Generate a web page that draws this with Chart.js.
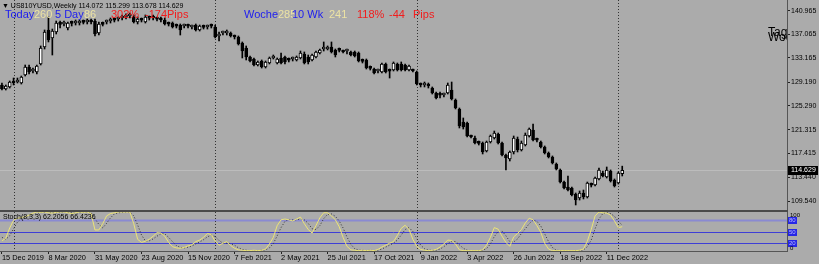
<!DOCTYPE html>
<html>
<head>
<meta charset="utf-8">
<script src="https://cdn.jsdelivr.net/npm/chart.js@4.4.1/dist/chart.umd.min.js"></script>
<style>
  body { margin:0; width:819px; height:264px; overflow:hidden; background:#ababab; position:relative; font-family:'Liberation Sans', Arial, sans-serif; }
  canvas { position:absolute; left:0; }
  #main { top:0; }
  #sub { top:212px; }
  .lbl { position:absolute; white-space:pre; line-height:1; }
  .big { font-size:11px; top:9px; }
  .blue { color:#1c1cf0; }
  .sand { color:#ece3a4; }
  .red { color:#f21c1c; }
</style>
</head>
<body>
<canvas id="main" width="819" height="212"></canvas>
<canvas id="sub" width="819" height="52"></canvas>

<div class="lbl" style="left:2px;top:2px;font-size:7px;color:#000">▼ US810YUSD,Weekly 114.072 115.299 113.678 114.629</div>
<div class="lbl big blue" style="left:5px">Today</div>
<div class="lbl big sand" style="left:34px">260</div>
<div class="lbl big blue" style="left:55px">5 Day</div>
<div class="lbl big sand" style="left:84px">86</div>
<div class="lbl big red" style="left:111px">302%</div>
<div class="lbl big red" style="left:145px">-174Pips</div>
<div class="lbl big blue" style="left:244px">Woche</div>
<div class="lbl big sand" style="left:278px">285</div>
<div class="lbl big blue" style="left:292px">10 Wk</div>
<div class="lbl big sand" style="left:329px">241</div>
<div class="lbl big red" style="left:357px">118%</div>
<div class="lbl big red" style="left:389px">-44</div>
<div class="lbl big red" style="left:413px">Pips</div>
<div style="position:absolute;left:768px;top:0;width:19px;height:60px;overflow:hidden">
  <div class="lbl" style="left:0;top:26px;font-size:12px;color:#000">Tag</div>
  <div class="lbl" style="left:0;top:31px;font-size:12px;color:#000">Woche</div>
</div>
<div class="lbl" style="left:3px;top:213px;font-size:7px;color:#000">Stoch(8,3,3) 62.2056 66.4236</div>

<script>
// -- weekly candles, 15 Dec 2019 .. 8 Jan 2023 --
const opens = [
  128.70,128.04,128.37,129.36,129.19,129.03,130.35,131.67,131.01,130.84,
  132.17,134.97,137.78,136.46,137.45,138.77,138.77,138.11,138.93,138.93,
  138.93,139.10,139.10,139.26,139.26,137.28,138.77,139.10,139.26,139.43,
  139.60,139.76,139.93,140.09,139.93,139.10,139.43,139.10,139.76,139.93,
  139.60,139.60,139.43,138.77,138.93,138.44,138.60,138.44,138.44,138.27,
  138.60,137.78,138.27,138.27,138.44,138.27,136.79,137.28,137.28,137.28,
  136.79,136.62,135.63,134.81,133.32,132.99,132.00,132.66,131.67,132.33,
  133.16,132.33,133.16,133.32,132.83,132.99,132.83,133.16,133.82,133.32,
  132.83,133.32,133.98,134.64,134.64,134.97,134.48,134.48,134.31,134.31,
  134.15,134.15,133.98,132.66,132.83,131.50,131.34,131.01,130.84,132.17,
  131.01,131.17,132.17,132.17,132.00,131.17,131.17,130.84,128.86,128.70,
  128.70,128.20,127.38,127.05,127.05,127.38,127.87,126.22,124.74,122.59,
  122.42,120.28,119.95,119.12,119.12,117.80,119.29,119.95,120.61,119.12,
  117.14,116.48,117.64,119.78,117.97,118.79,120.28,121.27,119.62,119.29,
  118.46,117.47,116.81,115.66,114.67,112.68,111.86,111.69,110.70,110.04,
  110.87,110.21,112.19,112.19,113.18,114.17,113.51,114.50,113.01,112.52,114.072
];
const highs = [
  129.03,128.70,129.36,129.85,129.85,130.18,132.00,132.00,131.50,132.00,
  135.14,137.78,139.93,137.94,139.26,139.26,139.26,139.10,139.26,139.43,
  139.43,139.43,139.60,139.60,139.60,139.10,139.10,139.43,139.76,139.76,
  139.93,140.26,140.43,140.59,140.26,139.93,139.76,140.26,140.09,140.26,
  139.93,139.93,139.76,139.10,139.10,138.77,138.77,138.77,138.77,138.60,
  138.77,138.60,138.60,138.60,138.77,138.60,137.45,137.61,137.78,137.45,
  136.95,136.79,135.80,135.14,133.49,133.16,132.66,132.83,132.66,133.32,
  133.65,133.16,133.98,133.49,133.16,133.32,133.49,134.31,134.15,133.65,
  133.82,134.31,134.64,135.80,135.14,135.80,134.64,134.81,134.48,134.64,
  134.31,134.31,134.15,132.99,132.99,131.84,131.50,131.34,132.33,132.33,
  131.34,132.50,132.33,132.50,132.17,132.00,131.34,131.01,129.03,129.19,
  129.03,128.37,127.54,127.54,127.38,129.03,129.19,126.39,124.90,123.25,
  122.59,120.44,120.28,119.45,119.29,119.45,120.44,121.10,120.77,119.29,
  117.31,117.80,120.28,120.11,119.45,120.77,121.60,122.26,119.95,119.45,
  118.63,117.64,116.98,115.82,114.83,112.85,113.67,111.86,110.87,111.20,
  111.36,112.68,112.52,113.51,115.00,114.50,115.16,114.67,113.18,114.34,115.299
];
const lows = [
  127.87,127.87,128.20,128.70,129.03,128.86,130.18,130.51,130.68,130.51,
  132.00,134.64,135.80,133.65,137.12,138.11,138.44,137.78,138.44,138.60,
  138.60,138.77,138.77,138.77,136.79,136.95,138.44,138.77,138.93,139.10,
  139.26,139.43,139.60,139.76,138.93,138.77,139.10,138.93,139.43,139.43,
  139.26,139.10,138.60,138.44,138.11,138.11,136.95,138.11,138.11,137.94,
  137.61,137.61,137.94,137.94,138.11,136.46,135.96,136.95,136.95,136.62,
  136.29,135.30,133.16,132.83,132.50,131.84,131.84,131.50,131.50,132.17,
  132.99,132.17,132.17,132.17,132.50,132.66,132.66,132.99,132.17,132.17,
  132.66,133.16,133.82,134.31,134.48,133.98,133.32,134.15,133.98,133.82,
  133.49,133.32,132.50,132.33,131.34,131.17,130.51,130.68,130.68,130.68,
  129.85,131.01,131.01,131.01,131.01,131.01,130.84,128.70,128.37,128.37,
  128.20,127.21,126.39,126.55,126.72,127.21,126.22,124.74,121.60,121.43,
  120.11,119.95,118.96,118.79,117.31,117.64,119.12,119.78,118.96,116.98,
  114.67,116.15,117.31,117.64,117.80,118.63,120.11,119.45,119.29,118.30,
  117.31,116.65,115.66,114.67,112.52,111.53,111.20,110.37,108.89,109.71,
  109.88,110.04,111.86,112.02,113.01,113.51,113.34,112.68,111.86,112.35,113.678
];
const closes = [
  128.04,128.53,129.19,129.03,129.52,130.02,131.67,130.84,131.17,131.84,
  134.81,137.45,136.13,137.61,138.93,138.70,138.93,138.93,138.87,139.10,
  138.98,139.04,139.26,139.10,137.12,138.77,138.70,139.15,139.43,139.38,
  139.66,139.93,140.09,140.26,139.10,139.60,139.38,139.93,139.71,139.76,
  139.55,139.43,138.77,138.72,138.27,138.40,137.78,138.49,138.40,138.32,
  137.78,138.44,138.22,138.32,138.40,136.62,137.12,137.33,137.45,136.79,
  136.62,135.47,134.31,133.32,132.66,132.00,132.50,131.67,132.50,133.16,
  133.32,132.99,132.33,132.50,132.78,133.16,133.32,133.98,132.33,132.50,
  133.65,134.15,134.48,134.70,134.97,134.15,133.65,134.42,134.15,134.36,
  133.65,133.49,132.66,132.61,131.50,131.45,130.68,131.06,132.17,130.84,
  130.96,132.33,131.17,131.17,131.17,131.84,131.01,128.86,128.70,128.86,
  128.53,127.38,126.55,127.00,127.10,128.70,126.39,124.90,121.93,121.76,
  120.28,120.11,119.12,119.07,117.64,119.29,120.28,120.77,119.12,117.14,
  116.65,117.64,119.95,117.97,119.12,120.44,121.43,119.62,119.57,118.46,
  117.47,116.81,115.82,114.83,112.68,111.69,111.36,110.54,109.71,110.87,
  110.21,112.52,112.14,113.34,114.67,113.67,114.67,112.85,112.02,114.17,114.629
];

// -- Stoch(8,3,3) --
const stochK = [
  26,33,59,79,84,86,88,92,97,100,   99,100,98,97,99,100,100,98,96,98,
  100,99,100,96,54,54,70,90,96,98,  100,100,100,100,70,30,22,25,30,38,
  47,46,38,22,11,8,7,9,13,16,       24,28,35,45,42,25,15,20,24,14,
  7,3,2,1,1,2,1,2,5,18,             35,65,80,82,80,77,82,87,70,55,
  46,65,85,98,98,90,80,62,35,12,    3,2,1,2,1,2,1,4,10,15,
  20,24,40,58,66,55,30,12,4,2,      1,2,4,10,18,28,27,18,3,1,
  1,1,1,1,3,15,35,60,56,38,         22,12,36,45,55,72,84,80,65,48,
  20,5,1,1,1,1,1,1,1,2,             5,25,55,90,100,98,97,92,77,60,62.21
];
const stochD = [
  35,30,39,57,74,83,86,89,92,96,    99,100,99,98,98,99,100,99,98,97,
  98,99,100,98,83,68,59,71,85,95,   98,99,100,100,90,67,41,26,26,31,
  38,44,44,35,24,14,9,8,10,13,      18,23,29,36,41,37,27,20,20,19,
  15,8,4,2,1,1,1,2,3,8,             19,39,60,76,81,80,80,82,80,71,
  57,55,65,83,94,95,89,77,59,36,    17,6,2,2,1,2,1,2,5,10,
  15,20,28,41,55,60,50,32,15,6,     2,2,2,5,11,19,24,24,16,7,
  2,1,1,1,2,6,18,37,50,51,          39,24,23,31,45,57,70,79,76,64,
  44,24,9,2,1,1,1,1,1,1,            3,11,28,57,82,96,98,96,89,76,66.42
];

const priceTicks = [109.540, 113.440, 117.415, 121.315, 125.290, 129.190, 133.165, 137.065, 140.965];
// one label every 12 weeks, starting with the first candle
const dateTicks = ['15 Dec 2019','8 Mar 2020','31 May 2020','23 Aug 2020','15 Nov 2020','7 Feb 2021',
  '2 May 2021','25 Jul 2021','17 Oct 2021','9 Jan 2022','3 Apr 2022','26 Jun 2022','18 Sep 2022','11 Dec 2022'];
const yearStarts = [3, 55, 107, 159];   // first week of 2020..2023
const levels = [80, 50, 20];
const slots = 203;                       // room on the right like the terminal's chart shift

const weeks = Array.from({length: slots}, (_, i) => i);

Chart.defaults.font.family = "'Liberation Sans', Arial, sans-serif";
Chart.defaults.animation = false;
Chart.defaults.events = [];
Chart.defaults.plugins.legend.display = false;
Chart.defaults.plugins.tooltip.enabled = false;

function vSeparators(chart) {
    const {ctx, chartArea: a, scales: {x}} = chart;
    ctx.save();
    ctx.strokeStyle = '#333';
    ctx.lineWidth = 1;
    ctx.setLineDash([1, 2]);
    for (let i of yearStarts) {
        const px = Math.round(x.getPixelForValue(i)) + 0.5;
        ctx.beginPath();
        ctx.moveTo(px, a.top);
        ctx.lineTo(px, a.bottom);
        ctx.stroke();
    }
    ctx.restore();
}

// --- main panel extras: bid line, separators, price box ---
const mainDeco = {
    id: 'mainDeco',
    beforeDatasetsDraw(chart) {
        const {ctx, chartArea: a, scales: {y}} = chart;
        const py = Math.round(y.getPixelForValue(closes[closes.length - 1])) + 0.5;
        ctx.save();
        ctx.strokeStyle = '#bcbcbc';
        ctx.lineWidth = 1;
        ctx.beginPath();
        ctx.moveTo(a.left, py);
        ctx.lineTo(a.right, py);
        ctx.stroke();
        ctx.restore();
        vSeparators(chart);
    },
    afterDraw(chart) {
        const {ctx, chartArea: a, scales: {y}} = chart;
        const last = closes[closes.length - 1];
        const py = y.getPixelForValue(last);
        ctx.save();
        ctx.fillStyle = '#000';
        ctx.fillRect(a.right + 1, Math.round(py) - 4, 30, 9);
        ctx.fillStyle = '#fff';
        ctx.font = "7px 'Liberation Sans', Arial, sans-serif";
        ctx.textBaseline = 'middle';
        ctx.fillText(last.toFixed(3), a.right + 4, Math.round(py) + 0.5);
        // panel separator
        ctx.fillStyle = '#4a4a4a';
        ctx.fillRect(a.left, a.bottom - 2, a.right - a.left + 1, 2);
        ctx.restore();
    }
};

// --- stochastic panel extras: levels, separators, level boxes ---
const subDeco = {
    id: 'subDeco',
    beforeDatasetsDraw(chart) {
        const {ctx, chartArea: a, scales: {y}} = chart;
        ctx.save();
        for (let lv of levels) {
            const py = Math.round(y.getPixelForValue(lv)) + 0.5;
            ctx.strokeStyle = lv == 80 ? '#8a8ad2' : '#3e3ed6';
            ctx.lineWidth = lv == 80 ? 2 : 1;
            ctx.beginPath();
            ctx.moveTo(a.left, py);
            ctx.lineTo(a.right, py);
            ctx.stroke();
        }
        ctx.restore();
        vSeparators(chart);
    },
    afterDraw(chart) {
        const {ctx, chartArea: a, scales: {y}} = chart;
        ctx.save();
        ctx.font = "6px 'Liberation Sans', Arial, sans-serif";
        ctx.textBaseline = 'middle';
        for (let lv of levels) {
            const py = Math.round(y.getPixelForValue(lv));
            ctx.fillStyle = '#2626e6';
            ctx.fillRect(a.right + 1, py - 3, 9, 7);
            ctx.fillStyle = '#b8b8ff';
            ctx.fillText(String(lv), a.right + 2, py + 0.5);
        }
        ctx.fillStyle = '#000';
        ctx.fillText('100', a.right + 3, a.top + 3);
        ctx.fillText('0', a.right + 3, a.bottom - 3);
        ctx.restore();
    }
};

const mainChart = new Chart(document.getElementById('main'), {
    type: 'bar',
    data: {
        labels: weeks,
        datasets: [{
            // bodies
            data: opens.map((o, i) => [o, closes[i]]),
            backgroundColor: opens.map((o, i) => closes[i] >= o ? '#ffffff' : '#000000'),
            borderColor: '#000',
            borderWidth: 1,
            borderSkipped: false,
            barThickness: 3,
            minBarLength: 2,
            grouped: false
        }, {
            // wicks
            data: lows.map((l, i) => [l, highs[i]]),
            backgroundColor: '#000',
            barThickness: 1,
            grouped: false
        }]
    },
    options: {
        responsive: false,
        layout: { padding: 0 },
        scales: {
            x: { type: 'category', offset: true, display: false },
            y: {
                position: 'right',
                min: 107.73,
                max: 142.73,
                afterBuildTicks: s => { s.ticks = priceTicks.map(v => ({ value: v })); },
                afterFit: s => { s.width = 32; s.paddingTop = 0; s.paddingBottom = 0; },
                ticks: { font: { size: 7 }, color: '#000', padding: 1, autoSkip: false, callback: v => v.toFixed(3) },
                grid: { drawOnChartArea: false, tickLength: 3, color: '#222' },
                border: { color: '#555' }
            }
        }
    },
    plugins: [mainDeco]
});

const subChart = new Chart(document.getElementById('sub'), {
    type: 'line',
    data: {
        labels: weeks,
        datasets: [{
            data: stochK,
            borderColor: '#ece476',
            borderWidth: 1,
            pointRadius: 0,
            tension: 0
        }, {
            data: stochD,
            borderColor: '#333',
            borderWidth: 1,
            borderDash: [1, 2],
            pointRadius: 0,
            tension: 0
        }]
    },
    options: {
        responsive: false,
        layout: { padding: 0 },
        scales: {
            x: {
                type: 'category',
                offset: true,
                afterBuildTicks: s => { s.ticks = dateTicks.map((d, k) => ({ value: k * 12 })); },
                afterFit: s => { s.height = 13; s.paddingLeft = 0; s.paddingRight = 0; },
                ticks: {
                    font: { size: 7.4 }, color: '#000', padding: 0, align: 'start',
                    maxRotation: 0, autoSkip: false,
                    callback: v => dateTicks[v / 12]
                },
                grid: { drawOnChartArea: false, tickLength: 3, color: '#222' },
                border: { color: '#555' }
            },
            y: {
                position: 'right',
                min: 0,
                max: 100,
                afterFit: s => { s.width = 32; s.paddingTop = 0; s.paddingBottom = 0; },
                ticks: { display: false },
                grid: { drawOnChartArea: false, drawTicks: false },
                border: { color: '#555' }
            }
        }
    },
    plugins: [subDeco]
});
</script>
</body>
</html>
